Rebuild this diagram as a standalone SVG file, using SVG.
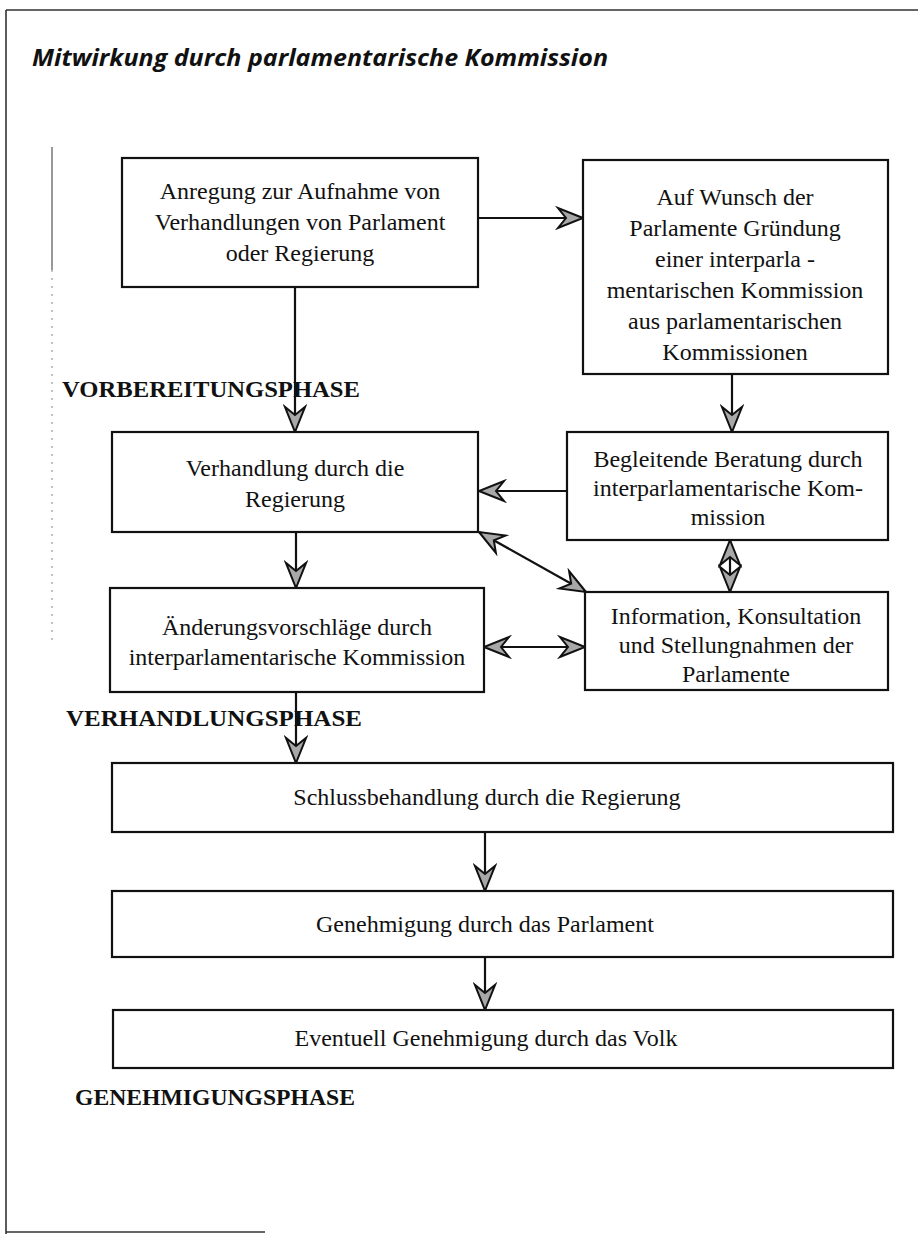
<svg xmlns="http://www.w3.org/2000/svg" width="918" height="1234" viewBox="0 0 918 1234">
<style>
.frame{fill:none;stroke:#333;stroke-width:1.6}
.box{fill:#fff;stroke:#111;stroke-width:2.2}
.t{font-family:"Liberation Serif","Times New Roman",serif;font-size:24px;fill:#111;text-anchor:middle}
.ph{font-family:"Liberation Serif","Times New Roman",serif;font-size:24px;font-weight:bold;fill:#111}
.title{font-family:"Open Sans","Noto Sans",sans-serif;font-size:24px;font-weight:bold;font-style:italic;fill:#111}
.c{fill:none;stroke:#111;stroke-width:2.2}
</style>
<defs>
<marker id="ah" viewBox="-28 -12 30 24" refX="0" refY="0" markerWidth="30" markerHeight="24" markerUnits="userSpaceOnUse" orient="auto-start-reverse">
<path d="M0,0 L-25,-10 L-17,0 L-25,10 Z" fill="#a8a8a8" stroke="#111" stroke-width="2" stroke-linejoin="miter"/>
</marker>
</defs>
<rect width="918" height="1234" fill="#fff"/>
<g id="frame">
<path class="frame" d="M6,10 H918 M6,10 V1234 M6,1232 H265"/>
<path d="M52,147 V270" stroke="#555" stroke-width="1.2"/>
<path d="M52,270 V640" stroke="#888" stroke-width="1" stroke-dasharray="2 6"/>
</g>
<text class="title" x="32" y="66" textLength="576" lengthAdjust="spacingAndGlyphs">Mitwirkung durch parlamentarische Kommission</text>
<g id="phases">
<text class="ph" x="62" y="397" textLength="298" lengthAdjust="spacingAndGlyphs">VORBEREITUNGSPHASE</text>
<text class="ph" x="66" y="726" textLength="296" lengthAdjust="spacingAndGlyphs">VERHANDLUNGSPHASE</text>
<text class="ph" x="75" y="1105" textLength="280" lengthAdjust="spacingAndGlyphs">GENEHMIGUNGSPHASE</text>
</g>
<g id="connectors">
<path class="c" d="M478,218 H583" marker-end="url(#ah)"/>
<path class="c" d="M295,287 V432" marker-end="url(#ah)"/>
<path class="c" d="M732,374 V432" marker-end="url(#ah)"/>
<path class="c" d="M567,491 H479" marker-end="url(#ah)"/>
<path class="c" d="M296,532 V588" marker-end="url(#ah)"/>
<path class="c" d="M479,532 L586,592" marker-start="url(#ah)" marker-end="url(#ah)"/>
<path class="c" d="M730,540 V592" marker-start="url(#ah)" marker-end="url(#ah)"/>
<path class="c" d="M484,647 H585" marker-start="url(#ah)" marker-end="url(#ah)"/>
<path class="c" d="M296,692 V763" marker-end="url(#ah)"/>
<path class="c" d="M485,832 V891" marker-end="url(#ah)"/>
<path class="c" d="M485,957 V1010" marker-end="url(#ah)"/>
</g>
<g id="nodeA">
<rect class="box" x="122" y="158" width="356" height="129"/>
<text class="t" x="300" y="199">Anregung zur Aufnahme von</text>
<text class="t" x="300" y="230">Verhandlungen von Parlament</text>
<text class="t" x="300" y="261">oder Regierung</text>
</g>
<g id="nodeB">
<rect class="box" x="583" y="160" width="305" height="214"/>
<text class="t" x="735" y="205">Auf Wunsch der</text>
<text class="t" x="735" y="236">Parlamente Gründung</text>
<text class="t" x="735" y="267">einer interparla -</text>
<text class="t" x="735" y="298">mentarischen Kommission</text>
<text class="t" x="735" y="329">aus parlamentarischen</text>
<text class="t" x="735" y="360">Kommissionen</text>
</g>
<g id="nodeC">
<rect class="box" x="112" y="432" width="366" height="100"/>
<text class="t" x="295" y="476">Verhandlung durch die</text>
<text class="t" x="295" y="507">Regierung</text>
</g>
<g id="nodeD">
<rect class="box" x="567" y="432" width="321" height="108"/>
<text class="t" x="728" y="467">Begleitende Beratung durch</text>
<text class="t" x="728" y="496">interparlamentarische Kom-</text>
<text class="t" x="728" y="525">mission</text>
</g>
<g id="nodeE">
<rect class="box" x="110" y="588" width="374" height="104"/>
<text class="t" x="297" y="635">Änderungsvorschläge durch</text>
<text class="t" x="297" y="665">interparlamentarische Kommission</text>
</g>
<g id="nodeF">
<rect class="box" x="585" y="592" width="303" height="98"/>
<text class="t" x="736" y="624">Information, Konsultation</text>
<text class="t" x="736" y="653">und Stellungnahmen der</text>
<text class="t" x="736" y="682">Parlamente</text>
</g>
<g id="nodeG">
<rect class="box" x="112" y="763" width="781" height="69"/>
<text class="t" x="487" y="805">Schlussbehandlung durch die Regierung</text>
</g>
<g id="nodeH">
<rect class="box" x="112" y="891" width="781" height="66"/>
<text class="t" x="485" y="932">Genehmigung durch das Parlament</text>
</g>
<g id="nodeI">
<rect class="box" x="113" y="1010" width="780" height="58"/>
<text class="t" x="486" y="1046">Eventuell Genehmigung durch das Volk</text>
</g>
</svg>
